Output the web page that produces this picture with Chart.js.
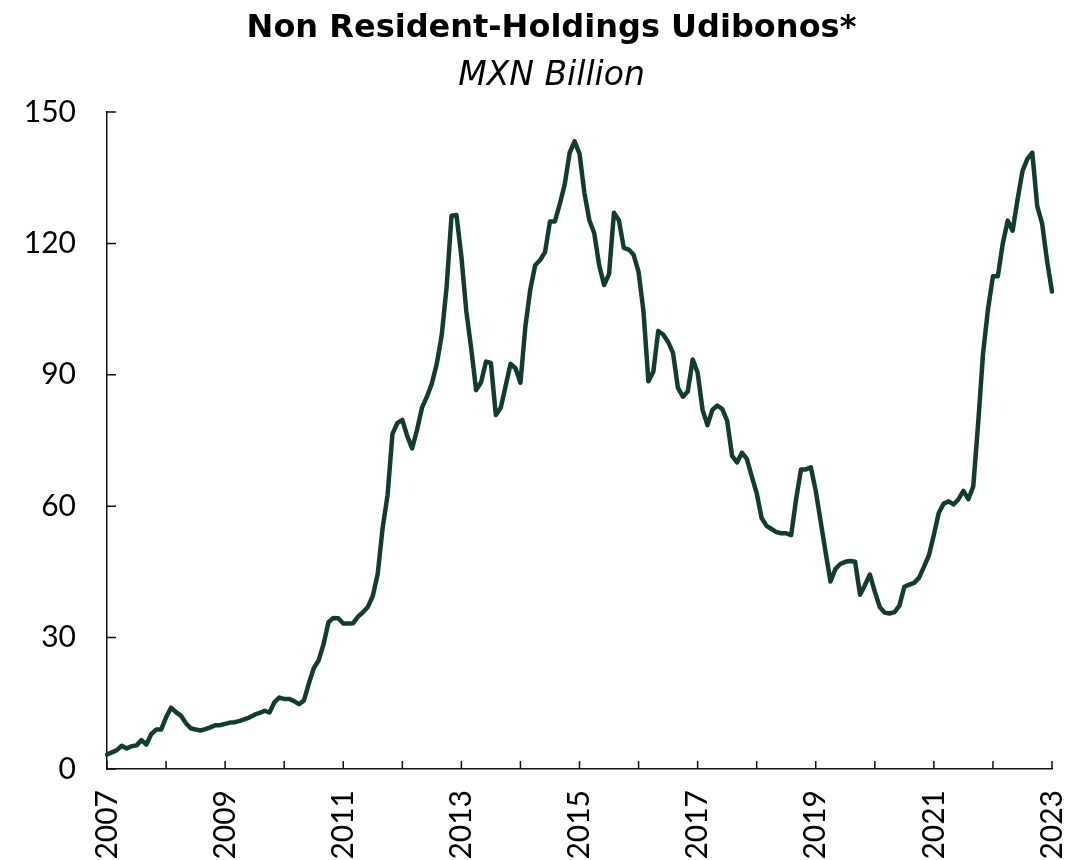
<!DOCTYPE html>
<html>
<head>
<meta charset="utf-8">
<script src="https://cdn.jsdelivr.net/npm/chart.js@4.4.0/dist/chart.umd.min.js"></script>
<style>
  html, body { margin: 0; padding: 0; background: #fff; }
  #wrap { width: 1087px; height: 860px; }
</style>
</head>
<body>
<div id="wrap"><canvas id="chart" width="1087" height="860"></canvas></div>
<script>
// monthly, Jan 2007 .. Jan 2023
const startYear = 2007;
const endYear = 2023;
const labeledYears = [2007, 2009, 2011, 2013, 2015, 2017, 2019, 2021, 2023];
const yTicks = [0, 30, 60, 90, 120, 150];

// MXN billion, one row per year
const holdings = [
  3.3, 3.8, 4.3, 5.3, 4.7, 5.2, 5.4, 6.6, 5.6, 8.0, 9.0, 9.0,
  11.8, 14.0, 13.0, 12.2, 10.5, 9.3, 9.0, 8.8, 9.1, 9.5, 10.0, 10.0,
  10.3, 10.6, 10.7, 11.0, 11.4, 11.8, 12.4, 12.8, 13.3, 12.9, 15.2, 16.3,
  16.0, 16.0, 15.5, 14.8, 15.6, 19.5, 23.0, 24.8, 28.5, 33.5, 34.5, 34.4,
  33.2, 33.2, 33.3, 34.8, 35.8, 37.0, 39.5, 44.5, 55.0, 62.5, 76.5, 79.0,
  79.7, 76.0, 73.2, 77.5, 82.5, 85.0, 88.0, 92.5, 99.0, 110.0, 126.3, 126.5,
  117.0, 104.5, 96.0, 86.5, 88.3, 93.0, 92.7, 80.8, 82.5, 87.5, 92.5, 91.5,
  88.2, 101.0, 109.5, 115.0, 116.2, 118.0, 125.0, 125.0, 129.0, 133.5, 140.7, 143.3,
  140.5, 131.5, 125.3, 122.3, 115.0, 110.5, 113.0, 127.0, 125.3, 119.0, 118.6, 117.4,
  113.5, 104.5, 88.5, 90.7, 100.0, 99.2, 97.5, 95.0, 87.0, 85.0, 86.2, 93.5,
  90.5, 82.0, 78.5, 82.0, 83.0, 82.2, 79.5, 71.5, 70.0, 72.2, 70.8, 66.8,
  63.0, 57.3, 55.5, 54.8, 54.1, 53.8, 53.8, 53.4, 61.5, 68.4, 68.4, 68.9,
  63.5, 56.5, 49.5, 42.8, 45.7, 46.8, 47.3, 47.5, 47.3, 39.8, 42.0, 44.4,
  40.5, 37.0, 35.7, 35.5, 35.8, 37.3, 41.6, 42.1, 42.5, 43.7, 46.2, 48.8,
  53.5, 58.5, 60.6, 61.1, 60.4, 61.6, 63.5, 61.6, 64.5, 79.0, 95.0, 105.0,
  112.5, 112.5, 120.0, 125.2, 122.9, 130.0, 136.5, 139.3, 140.7, 128.5, 124.5, 116.0,
  109.0
];

const months = [];
for (let y = startYear; y <= endYear; y++) {
  for (let m = 1; m <= 12; m++) {
    if (y === endYear && m > 1) break;
    months.push(y + '-' + String(m).padStart(2, '0'));
  }
}

const FONT = 'Lato, "Noto Sans", sans-serif';
const TITLE_FONT = '"DejaVu Sans", sans-serif';

// tick marks pointing into the plot, like the original
const innerTicks = {
  id: 'innerTicks',
  afterDatasetsDraw(chart) {
    const { ctx, chartArea, scales } = chart;
    ctx.save();
    ctx.strokeStyle = '#111';
    ctx.lineWidth = 1.5;
    ctx.beginPath();
    months.forEach((lab, i) => {
      if (!lab.endsWith('-01')) return;
      const px = scales.x.getPixelForValue(i);
      ctx.moveTo(px, chartArea.bottom);
      ctx.lineTo(px, chartArea.bottom - 8);
    });
    yTicks.forEach(v => {
      const py = scales.y.getPixelForValue(v);
      ctx.moveTo(chartArea.left, py);
      ctx.lineTo(chartArea.left + 9, py);
    });
    ctx.stroke();
    ctx.restore();
  }
};

new Chart(document.getElementById('chart'), {
  type: 'line',
  data: {
    labels: months,
    datasets: [{
      data: holdings,
      borderColor: '#123d2e',
      borderWidth: 4.5,
      pointRadius: 0,
      tension: 0,
      borderJoinStyle: 'round',
      borderCapStyle: 'round',
      fill: false
    }]
  },
  options: {
    responsive: false,
    animation: false,
    layout: { padding: { left: 16, right: 0, top: 0, bottom: 0 } },
    plugins: {
      legend: { display: false },
      tooltip: { enabled: false },
      title: {
        display: true,
        text: 'Non Resident-Holdings Udibonos*',
        color: '#000',
        font: { family: TITLE_FONT, size: 32, weight: 'bold' },
        padding: { top: 9, bottom: 0 }
      },
      subtitle: {
        display: true,
        text: 'MXN Billion',
        color: '#000',
        font: { family: TITLE_FONT, size: 33, style: 'italic' },
        padding: { top: 9, bottom: 16 }
      }
    },
    scales: {
      x: {
        type: 'category',
        grid: { display: false, drawTicks: false },
        border: { display: true, color: '#111', width: 1.5 },
        afterFit(scale) {
          scale.height = 91;
          // the rotated end labels should not push the plot inwards
          scale.paddingLeft = 0;
          scale.paddingRight = 0;
        },
        ticks: {
          autoSkip: false,
          minRotation: 90,
          maxRotation: 90,
          padding: 21,
          color: '#000',
          font: { family: FONT, size: 30 },
          callback(value, index) {
            const lab = months[index];
            const yr = Number(lab.slice(0, 4));
            return lab.endsWith('-01') && labeledYears.includes(yr) ? String(yr) : '';
          }
        }
      },
      y: {
        min: 0,
        max: 150,
        grid: { display: false, drawTicks: false },
        border: { display: true, color: '#111', width: 1.5 },
        afterFit(scale) { scale.width = 91; },
        ticks: {
          stepSize: 30,
          padding: 31,
          color: '#000',
          font: { family: FONT, size: 30 }
        }
      },
      // empty right-hand axis, only reserves the margin right of the plot
      yRight: {
        type: 'linear',
        position: 'right',
        grid: { display: false, drawTicks: false },
        border: { display: false },
        ticks: { display: false },
        afterFit(scale) { scale.width = 35; }
      }
    }
  },
  plugins: [innerTicks]
});
</script>
</body>
</html>
